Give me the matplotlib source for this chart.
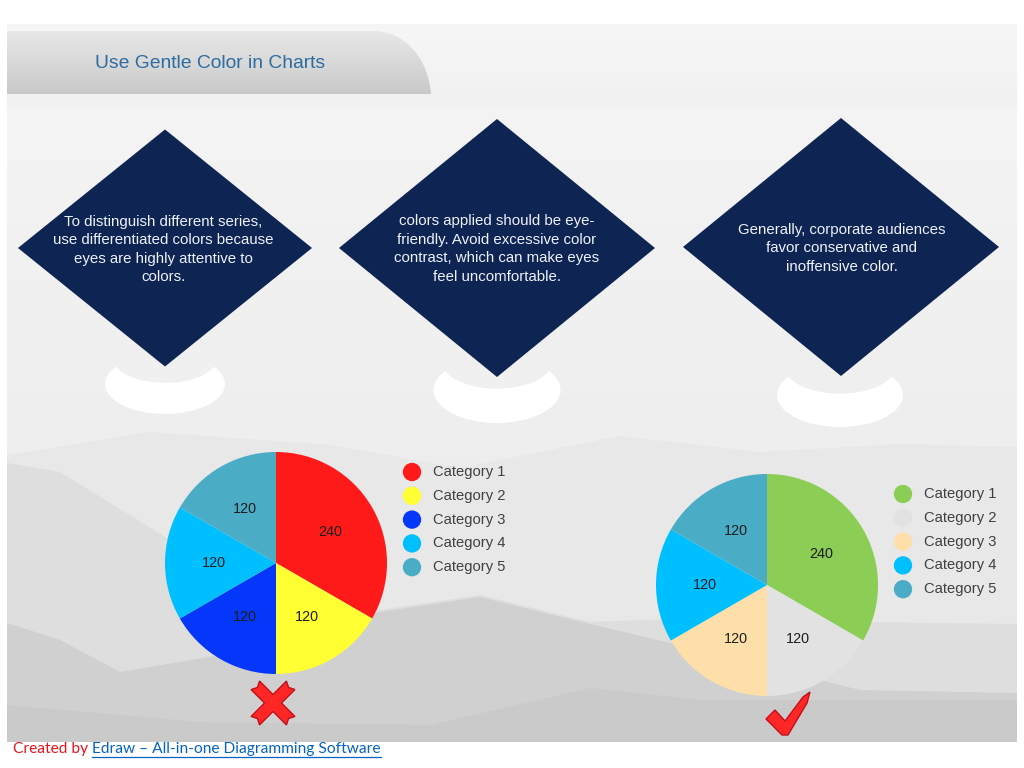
import matplotlib
matplotlib.use("Agg")
import matplotlib.pyplot as plt
import numpy as np
from matplotlib.patches import Polygon, Ellipse, PathPatch, Rectangle
from matplotlib.path import Path
from matplotlib.colors import LinearSegmentedColormap

# ---------------- data ----------------
title = "Use Gentle Color in Charts"
tips = [
    "To distinguish different series,\nuse differentiated colors because\neyes are highly attentive to\ncolors.",
    "colors applied should be eye-\nfriendly. Avoid excessive color\ncontrast, which can make eyes\nfeel uncomfortable.",
    "Generally, corporate audiences\nfavor conservative and\ninoffensive color.",
]
categories = ["Category 1", "Category 2", "Category 3", "Category 4", "Category 5"]
values_bad = [240, 120, 120, 120, 120]
values_good = [240, 120, 120, 120, 120]
colors_bad = ["#FF1A1A", "#FFFF33", "#0537FA", "#00BFFF", "#4BACC6"]
colors_good = ["#8CCD55", "#E2E2E2", "#FEDFAA", "#00BFFF", "#4BACC6"]
footer_prefix = "Created by "
footer_link = "Edraw \u2013 All-in-one Diagramming Software"

# ---------------- canvas ----------------
W, H = 1024, 768
fig = plt.figure(figsize=(10.24, 7.68), dpi=100)
fig.patch.set_facecolor("white")
ax = fig.add_axes([0, 0, 1, 1])
ax.set_xlim(0, W)
ax.set_ylim(H, 0)
ax.axis("off")


def vgrad(x0, x1, y0, y1, c_top, c_bot, z, clip=None):
    cmap = LinearSegmentedColormap.from_list("g", [c_top, c_bot])
    g = np.linspace(0, 1, 256).reshape(-1, 1)
    im = ax.imshow(g, cmap=cmap, extent=(x0, x1, y1, y0), aspect="auto",
                   origin="upper", zorder=z, interpolation="bilinear")
    if clip is not None:
        im.set_clip_path(clip)
    return im


# top band
vgrad(7, 1017, 24, 108, "#F6F6F6", "#F1F1F1", 1)

# header bar with rounded right end
hp = Path([(7, 31), (373, 31), (405, 31), (428, 58), (431, 94), (7, 94), (7, 31)],
          [Path.MOVETO, Path.LINETO, Path.CURVE4, Path.CURVE4, Path.CURVE4,
           Path.LINETO, Path.CLOSEPOLY])
hpatch = PathPatch(hp, facecolor="none", edgecolor="none", zorder=2)
ax.add_patch(hpatch)
vgrad(7, 431, 31, 94, "#E8E8E8", "#C9C9C9", 2, clip=hpatch)
ax.text(95, 63, title, fontsize=13.9, color="#2E6CA2", family="Liberation Sans",
        va="center", ha="left", zorder=3)

# main panel
PANEL_TOP, PANEL_BOT = 108, 742
TOP_G, BOT_G = 244, 233
vgrad(7, 1017, PANEL_TOP, PANEL_BOT, "#F4F4F4", "#E9E9E9", 1)


def panel_grey(y):
    v = TOP_G + (BOT_G - TOP_G) * (y - PANEL_TOP) / (PANEL_BOT - PANEL_TOP)
    v = v / 255.0
    return (v, v, v)


layers = [
    ("#E8E8E8", [(7, 455), (150, 432), (330, 445), (460, 468), (620, 436), (760, 452),
                 (900, 444), (1017, 447)]),
    ("#DEDEDE", [(7, 463), (60, 472), (170, 540), (280, 600), (380, 610), (480, 595),
                 (590, 622), (700, 618), (860, 622), (1017, 624)]),
    ("#D0D0D0", [(7, 623), (60, 640), (120, 672), (250, 650), (380, 612), (480, 597),
                 (590, 624), (700, 650), (860, 690), (1017, 693)]),
    ("#CACACA", [(7, 705), (200, 722), (430, 725), (590, 688), (700, 700), (1017, 700)]),
]
for col, ridge in layers:
    pts = ridge + [(1017, 742), (7, 742)]
    ax.add_patch(Polygon(pts, closed=True, facecolor=col, edgecolor="none", zorder=1.2))

# white crescents under the diamonds
crescents = [(165, 384, 120, 60), (497, 390, 127, 66), (840, 395, 126, 64)]
for cx, cy, w, h in crescents:
    ax.add_patch(Ellipse((cx, cy), w, h, facecolor="white", edgecolor="none", zorder=2))
    ccy = cy - 0.42 * h
    ax.add_patch(Ellipse((cx, ccy), w * 0.86, h * 0.8, facecolor=panel_grey(ccy),
                         edgecolor="none", zorder=2.1))

# diamonds with text
diamonds = [(165, 248, 147, 118.5), (497, 248, 158, 129), (841, 247, 158, 129)]
text_centers = [(163, 249.5), (497, 249), (842, 248.5)]
line_step = 18.4
for (cx, cy, hw, hh), (tx, ty), tip in zip(diamonds, text_centers, tips):
    ax.add_patch(Polygon([(cx, cy - hh), (cx + hw, cy), (cx, cy + hh), (cx - hw, cy)],
                         closed=True, facecolor="#0E2453", edgecolor="none", zorder=3))
    lines = tip.split("\n")
    y0 = ty - (len(lines) - 1) * line_step / 2
    for i, ln in enumerate(lines):
        ax.text(tx, y0 + i * line_step, ln, fontsize=10.8, color="#EEF2F8",
                family="Liberation Sans", ha="center", va="center", zorder=4)


# ---------------- pies ----------------
def draw_pie(cx, cy, r, values, colors):
    s = 2.5 * r
    pax = fig.add_axes([(cx - s / 2) / W, (H - cy - s / 2) / H, s / W, s / H])
    total = sum(values)
    pax.pie(values, colors=colors, startangle=90, counterclock=False,
            autopct=lambda p: f"{p * total / 100:.0f}", pctdistance=0.56,
            wedgeprops=dict(linewidth=0),
            textprops=dict(fontsize=10.4, color="#1E1E1E", family="Liberation Sans"))
    pax.set_xlim(-1.25, 1.25)
    pax.set_ylim(-1.25, 1.25)
    pax.set_aspect("equal")
    pax.axis("off")


draw_pie(276, 563, 111, values_bad, colors_bad)
draw_pie(767, 585, 111, values_good, colors_good)


# legends
def draw_legend(mx, my0, colors):
    for i, (cat, col) in enumerate(zip(categories, colors)):
        y = my0 + i * 23.8
        ax.scatter([mx], [y], s=13.2 ** 2, color=col, edgecolors="none", zorder=5)
        ax.text(mx + 21, y, cat, fontsize=10.6, color="#404040",
                family="Liberation Sans", ha="left", va="center", zorder=5)


draw_legend(412, 472, colors_bad)
draw_legend(903, 494, colors_good)

# red X mark
L, w, n = 25.0, 6.0, 3.0
plus = [(L, w), (L - n, 0), (L, -w), (w, -w), (w, -L), (0, -L + n), (-w, -L), (-w, -w),
        (-L, -w), (-L + n, 0), (-L, w), (-w, w), (-w, L), (0, L - n), (w, L), (w, w)]
c45 = np.cos(np.pi / 4)
xpts = [(273 + (u - v) * c45, 703 + (u + v) * c45) for u, v in plus]
ax.add_patch(Polygon(xpts, closed=True, facecolor="#FF2626", edgecolor="#C0101A",
                     linewidth=1.0, zorder=5))

# red check mark
check = [(766, 719), (775, 710), (785, 721), (803, 697), (810, 692), (807, 703),
         (788, 735), (782, 735)]
ax.add_patch(Polygon(check, closed=True, facecolor="#FF2626", edgecolor="#C0101A",
                     linewidth=1.0, zorder=5))

# footer
fs = 11.0
t1 = ax.text(13, 749, footer_prefix, fontsize=fs, color="#E8141B", family="Lato",
             ha="left", va="center", zorder=6)
fig.canvas.draw()
r = fig.canvas.get_renderer()
bb1 = t1.get_window_extent(r)
t2 = ax.text(13 + bb1.width, 749, footer_link, fontsize=fs, color="#0563C1", family="Lato",
             ha="left", va="center", zorder=6)
fig.canvas.draw()
bb2 = t2.get_window_extent(r)
scale = (381 - 13) / (bb1.width + bb2.width)
t1.set_fontsize(fs * scale)
t2.set_fontsize(fs * scale)
fig.canvas.draw()
bb1 = t1.get_window_extent(r)
t2.set_x(13 + bb1.width)
fig.canvas.draw()
bb2 = t2.get_window_extent(r)
ax.plot([bb2.x0, bb2.x1], [757, 757], color="#0563C1", linewidth=0.9, zorder=6)

ax.set_xlim(0, W)
ax.set_ylim(H, 0)
fig.savefig("out.png", dpi=100)
